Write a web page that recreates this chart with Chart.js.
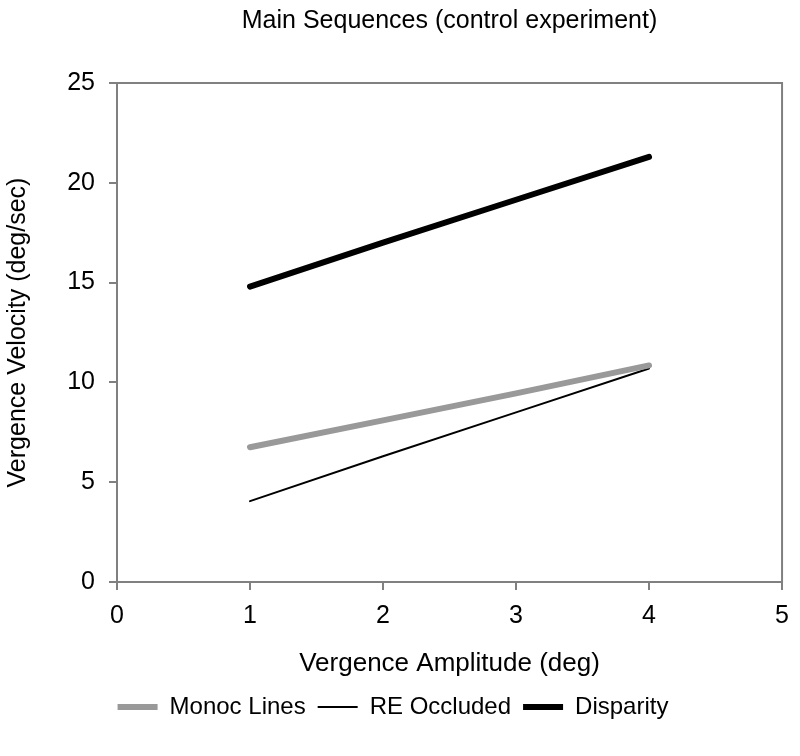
<!DOCTYPE html>
<html>
<head>
<meta charset="utf-8">
<script src="https://cdn.jsdelivr.net/npm/chart.js@4/dist/chart.umd.min.js"></script>
<style>
  html, body { margin: 0; padding: 0; background: #fff; }
  #wrap { width: 800px; height: 756px; }
</style>
</head>
<body>
<div id="wrap"><canvas id="chart"></canvas></div>
<script>
// Main sequences, control experiment (amplitude vs peak velocity)
const amplitudes = [1, 2, 3, 4];
const monocLines = [6.75, 8.1, 9.45, 10.85];
const reOccluded = [4.05, 6.3, 8.5, 10.7];
const disparity = [14.8, 17.0, 19.15, 21.3];

const xTicks = [0, 1, 2, 3, 4, 5];
const yTicks = [0, 5, 10, 15, 20, 25];

const FONT = "'Liberation Sans', Arial, sans-serif";

function pts(ys) {
  return amplitudes.map((x, i) => ({ x: x, y: ys[i] }));
}

// grey frame round the plot area
const frame = {
  id: 'frame',
  afterDatasetsDraw(chart) {
    const a = chart.chartArea;
    const ctx = chart.ctx;
    ctx.save();
    ctx.strokeStyle = '#808080';
    ctx.lineWidth = 2;
    ctx.strokeRect(a.left, a.top, a.right - a.left, a.bottom - a.top);
    ctx.restore();
  }
};

const series = (label, ys, color, width) => ({
  label: label,
  data: pts(ys),
  borderColor: color,
  backgroundColor: color,
  borderWidth: width,
  borderCapStyle: 'round',
  pointRadius: 0,
  pointHoverRadius: 0,
  showLine: true,
  tension: 0
});

new Chart(document.getElementById('chart'), {
  type: 'scatter',
  data: {
    datasets: [
      series('Monoc Lines', monocLines, '#999999', 6),
      series('RE Occluded', reOccluded, '#000000', 2),
      series('Disparity', disparity, '#000000', 6)
    ]
  },
  options: {
    responsive: true,
    maintainAspectRatio: false,
    animation: false,
    layout: { padding: { left: 0, right: 14, top: 0, bottom: 27 } },
    scales: {
      x: {
        type: 'linear',
        min: xTicks[0],
        max: xTicks[xTicks.length - 1],
        afterBuildTicks: s => { s.ticks = xTicks.map(v => ({ value: v })); },
        afterFit: s => { s.height = 101; },
        grid: { drawOnChartArea: false, drawTicks: true, tickLength: 8, color: '#808080', lineWidth: 2 },
        border: { color: '#808080', width: 2 },
        ticks: { color: '#000', font: { family: FONT, size: 25 }, padding: 11, maxRotation: 0 },
        title: { display: true, text: 'Vergence Amplitude (deg)', color: '#000', font: { family: FONT, size: 26 }, padding: { top: 4, bottom: 4 } }
      },
      y: {
        min: yTicks[0],
        max: yTicks[yTicks.length - 1],
        afterBuildTicks: s => { s.ticks = yTicks.map(v => ({ value: v })); },
        afterFit: s => { s.width = 117; },
        grid: { drawOnChartArea: false, drawTicks: true, tickLength: 8, color: '#808080', lineWidth: 2 },
        border: { color: '#808080', width: 2 },
        ticks: { color: '#000', font: { family: FONT, size: 25 }, padding: 14 },
        title: { display: true, text: 'Vergence Velocity (deg/sec)', color: '#000', font: { family: FONT, size: 25 }, padding: { top: 3, bottom: 0 } }
      }
    },
    plugins: {
      title: {
        display: true,
        text: 'Main Sequences (control experiment)',
        color: '#000',
        fullSize: false,
        font: { family: FONT, size: 25, weight: 'normal' },
        padding: { top: 6, bottom: 47 }
      },
      legend: {
        position: 'bottom',
        labels: {
          usePointStyle: true,
          pointStyle: 'line',
          pointStyleWidth: 40,
          color: '#000',
          font: { family: FONT, size: 24 },
          padding: 12
        }
      },
      tooltip: { enabled: false }
    }
  },
  plugins: [frame]
});
</script>
</body>
</html>
